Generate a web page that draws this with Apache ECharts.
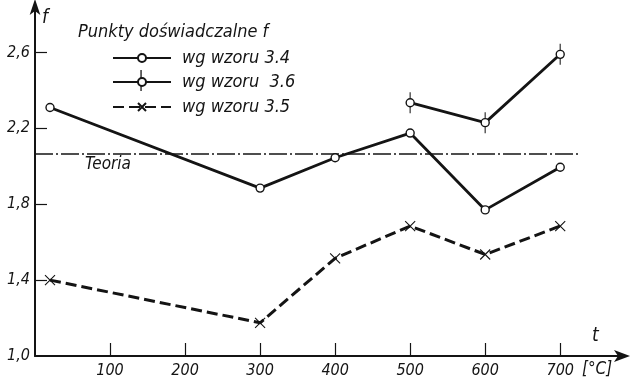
<!DOCTYPE html>
<html>
<head>
<meta charset="utf-8">
<script src="https://cdn.jsdelivr.net/npm/echarts@6/dist/echarts.min.js"></script>
<style>
  html, body { margin: 0; padding: 0; background: #fff; }
  #chart { width: 630px; height: 383px; }
</style>
</head>
<body>
<div id="chart"></div>
<script>
// temperatura t [°C]
const tAll = [20, 300, 400, 500, 600, 700]
const t36 = [500, 600, 700]

// punkty doświadczalne f
const f34 = [2.31, 1.885, 2.045, 2.175, 1.77, 1.995]
const f36 = [2.335, 2.23, 2.59]
const f35 = [1.40, 1.175, 1.515, 1.685, 1.535, 1.685]

// linia teoretyczna
const teoriaX = [0, 724]
const teoriaF = 2.065

const xTicks = [100, 200, 300, 400, 500, 600, 700]
const yLabels = [1.0, 1.4, 1.8, 2.2, 2.6]
const yTicks = [1.4, 1.8, 2.2, 2.6]

const ink = '#141414'
const font = 'DejaVu Sans Condensed'

const pairs = (xs, ys) => xs.map((x, i) => [x, ys[i]])

const chart = echarts.init(document.getElementById('chart'))

const legendBase = {
  orient: 'vertical',
  left: 107,
  itemWidth: 58,
  itemHeight: 10,
  selectedMode: false,
  textStyle: {
    color: ink,
    fontSize: 18,
    fontStyle: 'italic',
    fontFamily: font,
    padding: [0, 0, 0, 6]
  }
}

const option = {
  backgroundColor: '#fff',
  animation: false,
  grid: { left: 35, right: 6, top: 5, bottom: 27 },
  legend: [
    { ...legendBase, top: 44, data: ['wg wzoru 3.4'] },
    { ...legendBase, top: 68, data: ['wg wzoru  3.6'] },
    { ...legendBase, top: 93, data: ['wg wzoru 3.5'] }
  ],
  xAxis: {
    type: 'value',
    min: 0,
    max: 785,
    splitLine: { show: false },
    axisLine: {
      lineStyle: { color: ink, width: 2 },
      symbol: ['none', 'arrow'],
      symbolSize: [9, 16],
      symbolOffset: [0, 6]
    },
    axisTick: {
      inside: true,
      length: 13,
      customValues: xTicks,
      lineStyle: { color: ink, width: 1.2 }
    },
    axisLabel: {
      customValues: xTicks,
      margin: 7,
      color: ink,
      fontSize: 16,
      fontStyle: 'italic',
      fontFamily: font
    }
  },
  yAxis: {
    type: 'value',
    min: 1.0,
    max: 2.85,
    splitLine: { show: false },
    axisLine: {
      lineStyle: { color: ink, width: 2 },
      symbol: ['none', 'arrow'],
      symbolSize: [8, 16],
      symbolOffset: [0, 6]
    },
    axisTick: {
      inside: true,
      length: 12,
      customValues: yTicks,
      lineStyle: { color: ink, width: 1.2 }
    },
    axisLabel: {
      customValues: yLabels,
      margin: 5,
      color: ink,
      fontSize: 16,
      fontStyle: 'italic',
      fontFamily: font,
      formatter: v => v.toFixed(1).replace('.', ',')
    }
  },
  series: [
    {
      name: 'Teoria',
      type: 'line',
      silent: true,
      symbol: 'none',
      lineStyle: { color: ink, width: 1.6, type: [18, 3, 2, 3] },
      data: teoriaX.map(x => [x, teoriaF])
    },
    {
      name: 'wg wzoru 3.5',
      type: 'line',
      symbol: 'path://M0,0L10,10M10,0L0,10',
      symbolSize: 10,
      itemStyle: { color: 'rgba(0,0,0,0)', borderColor: ink, borderWidth: 1.1 },
      lineStyle: { color: ink, width: 3, type: [11, 5] },
      data: pairs(tAll, f35)
    },
    {
      name: 'wg wzoru 3.4',
      type: 'line',
      symbol: 'circle',
      symbolSize: 8,
      itemStyle: { color: '#fff', borderColor: ink, borderWidth: 1.4 },
      lineStyle: { color: ink, width: 2.8 },
      data: pairs(tAll, f34),
      z: 3
    },
    {
      // kreski pionowe przy punktach wg wzoru 3.6
      name: 'bar36',
      type: 'scatter',
      silent: true,
      symbol: 'rect',
      symbolSize: [1.3, 21],
      itemStyle: { color: ink },
      data: pairs(t36, f36),
      z: 3
    },
    {
      name: 'wg wzoru  3.6',
      type: 'line',
      symbol: 'circle',
      symbolSize: 8,
      itemStyle: { color: '#fff', borderColor: ink, borderWidth: 1.4 },
      lineStyle: { color: ink, width: 2.8 },
      data: pairs(t36, f36),
      z: 4
    }
  ],
  graphic: [
    {
      type: 'text', left: 78, top: 23,
      style: { text: 'Punkty doświadczalne f', fill: ink, font: 'italic 18px "DejaVu Sans Condensed"' }
    },
    {
      type: 'text', left: 85, top: 156,
      style: { text: 'Teoria', fill: ink, font: 'italic 17px "DejaVu Sans Condensed"' }
    },
    {
      type: 'text', left: 42, top: 9,
      style: { text: 'f', fill: ink, font: 'italic 19px "DejaVu Sans Condensed"' }
    },
    {
      type: 'text', left: 592, top: 327,
      style: { text: 't', fill: ink, font: 'italic 19px "DejaVu Sans Condensed"' }
    },
    {
      type: 'text', left: 582, top: 361,
      style: { text: '[°C]', fill: ink, font: 'italic 17px "DejaVu Sans Condensed"' }
    },
    {
      type: 'rect', left: 140.4, top: 70, z: 0,
      shape: { width: 1.3, height: 21 },
      style: { fill: ink }
    }
  ]
}

chart.setOption(option)
</script>
</body>
</html>
